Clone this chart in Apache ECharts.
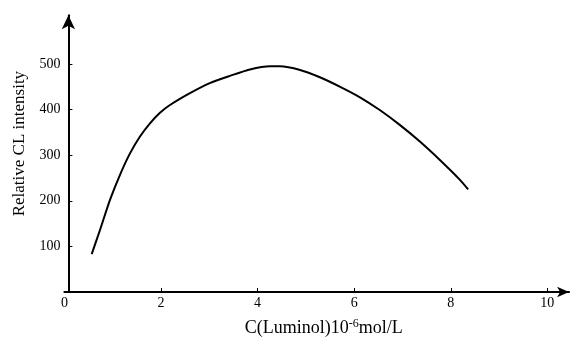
<!DOCTYPE html>
<html>
<head>
<meta charset="utf-8">
<script src="https://cdn.jsdelivr.net/npm/echarts@6/dist/echarts.min.js"></script>
<style>
html,body{margin:0;padding:0;background:#fff;}
#c{width:574px;height:342px;}
</style>
</head>
<body>
<div id="c"></div>
<script>
// Data
var concX = [0.565, 0.737, 0.944, 1.151, 1.358, 1.565, 1.772, 1.979, 2.186, 2.60, 3.01, 3.43, 3.84, 4.26, 4.46, 4.88, 5.29, 5.71, 6.12, 6.53, 6.95, 7.36, 7.78, 8.19, 8.36];
var intensity = [83, 136, 202, 257, 304, 341, 370, 393, 410, 436, 458, 474, 488, 495, 495, 487, 471, 450, 427, 399, 366, 330, 289, 246, 225];
var xTicks = [0, 2, 4, 6, 8, 10];
var yTicks = [100, 200, 300, 400, 500];

var pts = concX.map(function (x, i) { return [x, intensity[i]]; });
var font = 'Liberation Serif';
var chart = echarts.init(document.getElementById('c'));
chart.setOption({
  animation: false,
  backgroundColor: '#fff',
  grid: { left: 64.4, right: 4.9, top: 15.2, bottom: 50, containLabel: false },
  xAxis: {
    type: 'value', min: 0, max: 10.45,
    name: '{a|C(Luminol)10}{s|-6}{a|mol/L}',
    nameLocation: 'middle', nameGap: 26,
    nameTextStyle: {
      padding: [0, 0, 0, 14],
      rich: {
        a: { fontFamily: font, fontSize: 18, color: '#000' },
        s: { fontFamily: font, fontSize: 12, color: '#000', verticalAlign: 'top', padding: [0, 0, 8, 0] }
      }
    },
    axisLine: { lineStyle: { color: '#000', width: 2 }, symbol: ['none', 'arrow'], symbolSize: [8, 12] },
    axisTick: { inside: true, length: 4, lineStyle: { color: '#000', width: 1 }, customValues: [2, 4, 6, 8, 10] },
    axisLabel: { customValues: xTicks, margin: 4, fontFamily: font, fontSize: 14, color: '#000' },
    splitLine: { show: false }
  },
  yAxis: {
    type: 'value', min: 0, max: 607, offset: -4,
    name: 'Relative CL intensity',
    nameLocation: 'middle', nameGap: 37, nameRotate: 90,
    nameTextStyle: { fontFamily: font, fontSize: 17, color: '#000', padding: [0, 0, 0, 20] },
    axisLine: { lineStyle: { color: '#000', width: 2 }, symbol: ['none', 'arrow'], symbolSize: [10, 14] },
    axisTick: { inside: true, length: 4, lineStyle: { color: '#000', width: 1 }, customValues: yTicks },
    axisLabel: { customValues: yTicks, margin: 8, fontFamily: font, fontSize: 14, color: '#000' },
    splitLine: { show: false }
  },
  series: [{
    type: 'line', data: pts, smooth: 0.25, showSymbol: false,
    lineStyle: { color: '#000', width: 2 }
  }]
});
</script>
</body>
</html>
